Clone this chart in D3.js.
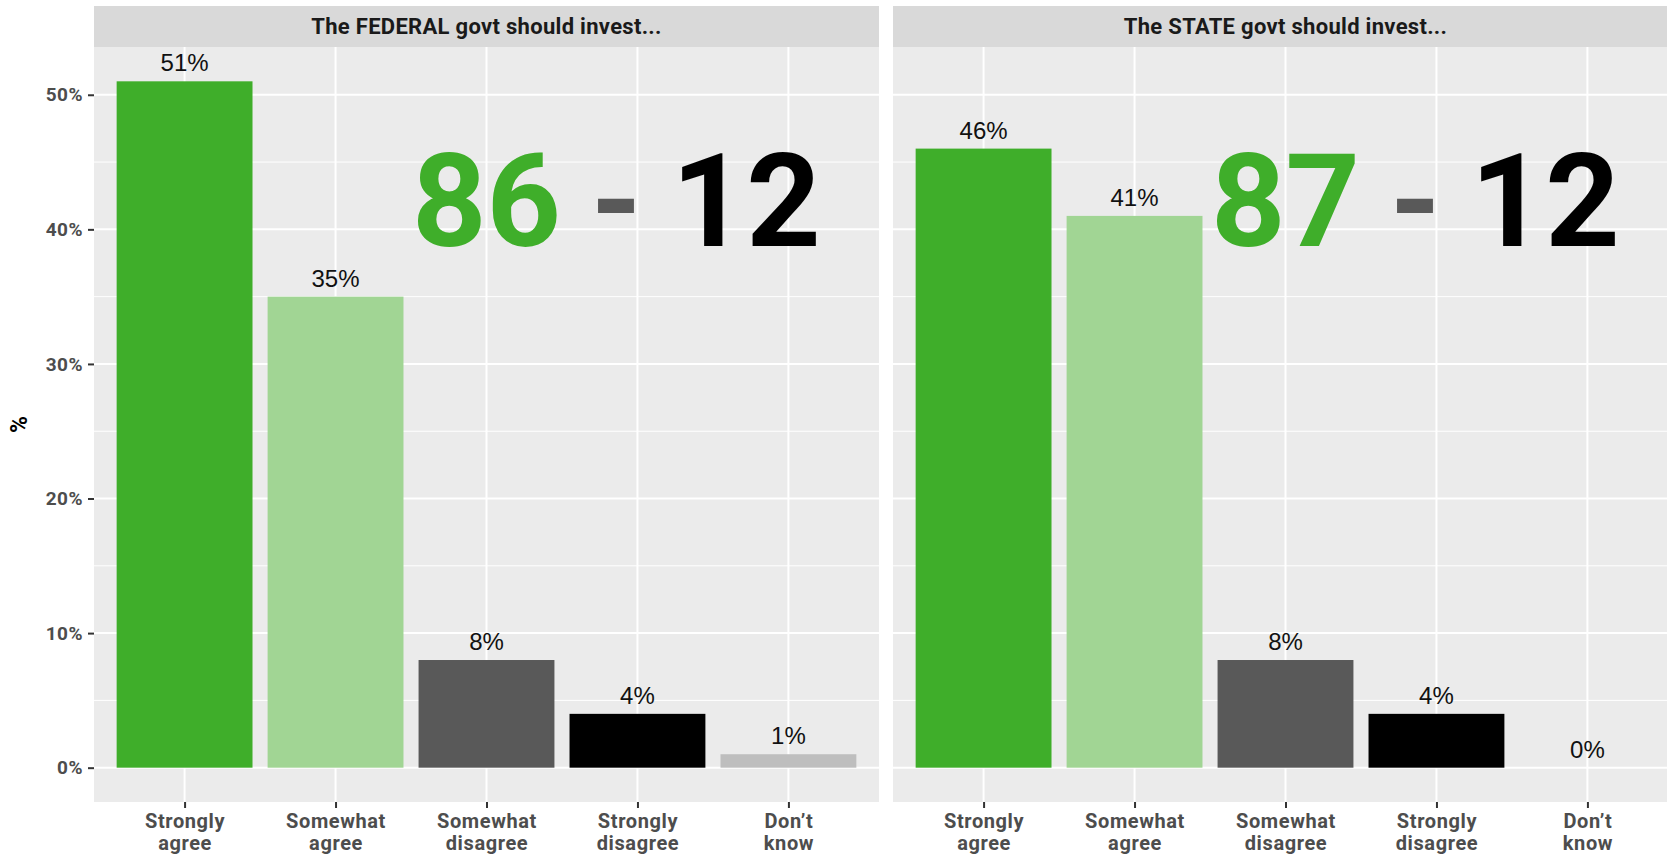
<!DOCTYPE html>
<html>
<head>
<meta charset="utf-8">
<script src="https://cdn.jsdelivr.net/npm/d3@7"></script>
<style>
  html, body { margin: 0; padding: 0; background: #fff; }
  svg { display: block; }
</style>
</head>
<body>
<svg id="chart" width="1667" height="854"></svg>
<script>
// ---------- data ----------
const categories = [["Strongly", "agree"], ["Somewhat", "agree"], ["Somewhat", "disagree"], ["Strongly", "disagree"], ["Don\u2019t", "know"]];
const panelTitles = ["The FEDERAL govt should invest...", "The STATE govt should invest..."];
const federalValues = [51, 35, 8, 4, 1];
const stateValues = [46, 41, 8, 4, 0];
const barColors = ["#3fae2a", "#a1d594", "#595959", "#000000", "#bebebe"];
const agreeTotals = [86, 87];
const disagreeTotals = [12, 12];
const yTicks = [0, 10, 20, 30, 40, 50];
const yMinorTicks = [5, 15, 25, 35, 45];

const seriesValues = [federalValues, stateValues];

// ---------- layout ----------
const svg = d3.select("#chart");
const panelW = 785;
const panelTop = 47, panelBottom = 802;
const stripTop = 6;
const panelLefts = [94, 893];

const allMax = d3.max(seriesValues.flat());
const yPad = allMax * 0.05;
const y = d3.scaleLinear().domain([-yPad, allMax + yPad]).range([panelBottom, panelTop]);

const axisFont = "Roboto, 'DejaVu Sans', sans-serif";

panelLefts.forEach((left, p) => {
  const x = d3.scaleLinear().domain([0.4, categories.length + 0.6]).range([left, left + panelW]);
  const step = x(2) - x(1);
  const g = svg.append("g");

  // panel background
  g.append("rect").attr("x", left).attr("y", panelTop).attr("width", panelW)
    .attr("height", panelBottom - panelTop).attr("fill", "#ebebeb");

  // strip
  g.append("rect").attr("x", left).attr("y", stripTop).attr("width", panelW)
    .attr("height", panelTop - stripTop).attr("fill", "#d9d9d9");
  g.append("text").attr("x", left + panelW / 2).attr("y", (stripTop + panelTop) / 2)
    .attr("dy", "0.36em").attr("text-anchor", "middle")
    .attr("font-family", axisFont).attr("font-weight", 700).attr("font-size", 22)
    .attr("letter-spacing", 0.3)
    .attr("fill", "#1a1a1a").text(panelTitles[p]);

  // minor grid
  g.selectAll(".ymin").data(yMinorTicks).enter().append("line")
    .attr("x1", left).attr("x2", left + panelW)
    .attr("y1", d => y(d)).attr("y2", d => y(d))
    .attr("stroke", "#fff").attr("stroke-width", 1);
  // major grid
  g.selectAll(".ymaj").data(yTicks).enter().append("line")
    .attr("x1", left).attr("x2", left + panelW)
    .attr("y1", d => y(d)).attr("y2", d => y(d))
    .attr("stroke", "#fff").attr("stroke-width", 2);
  g.selectAll(".xmaj").data(categories.map((c, i) => i + 1)).enter().append("line")
    .attr("x1", d => x(d)).attr("x2", d => x(d))
    .attr("y1", panelTop).attr("y2", panelBottom)
    .attr("stroke", "#fff").attr("stroke-width", 2);

  // bars
  const vals = seriesValues[p];
  g.selectAll(".bar").data(vals).enter().append("rect")
    .attr("x", (d, i) => x(i + 1) - step * 0.45)
    .attr("width", step * 0.9)
    .attr("y", d => y(d))
    .attr("height", d => y(0) - y(d))
    .attr("fill", (d, i) => barColors[i]);

  // value labels
  g.selectAll(".lbl").data(vals).enter().append("text")
    .attr("x", (d, i) => x(i + 1))
    .attr("y", d => y(d) - 10)
    .attr("text-anchor", "middle")
    .attr("font-family", "'Liberation Sans', Arial, sans-serif")
    .attr("font-size", 24).attr("fill", "#111")
    .text(d => d + "%");

  // big annotation numbers
  const bigFont = "Roboto, 'DejaVu Sans', sans-serif";
  const bigY = y(38.8);
  g.append("text").attr("x", x(3)).attr("y", bigY).attr("text-anchor", "middle")
    .attr("font-family", bigFont).attr("font-weight", 700).attr("font-size", 130)
    .attr("fill", "#3fae2a").text(agreeTotals[p]);
  g.append("text").attr("x", x(3.86)).attr("y", bigY).attr("text-anchor", "middle")
    .attr("font-family", bigFont).attr("font-weight", 700).attr("font-size", 130)
    .attr("fill", "#595959").text("-");
  g.append("text").attr("x", x(4.72)).attr("y", bigY).attr("text-anchor", "middle")
    .attr("font-family", bigFont).attr("font-weight", 700).attr("font-size", 130)
    .attr("fill", "#000").text(disagreeTotals[p]);

  // x axis
  const xAxis = d3.axisBottom(x).tickValues(categories.map((c, i) => i + 1))
    .tickSize(6).tickPadding(4).tickFormat("");
  const xa = g.append("g").attr("transform", `translate(0,${panelBottom})`).call(xAxis);
  xa.select(".domain").remove();
  xa.selectAll(".tick line").attr("stroke", "#333").attr("stroke-width", 2);
  xa.selectAll(".tick").each(function(d) {
    const t = d3.select(this).append("text")
      .attr("text-anchor", "middle").attr("fill", "#4d4d4d")
      .attr("font-family", axisFont).attr("font-weight", 700).attr("font-size", 20)
      .attr("letter-spacing", 0.6);
    categories[d - 1].forEach((line, k) => {
      t.append("tspan").attr("x", 0).attr("y", 26 + k * 22).text(line);
    });
  });
});

// y axis (left panel only)
const yAxis = d3.axisLeft(y).tickValues(yTicks).tickSize(6).tickPadding(5).tickFormat(d => d + "%");
const ya = svg.append("g").attr("transform", `translate(${panelLefts[0]},0)`).call(yAxis);
ya.select(".domain").remove();
ya.selectAll(".tick line").attr("stroke", "#333").attr("stroke-width", 2);
ya.selectAll(".tick text").attr("fill", "#4d4d4d").attr("font-family", axisFont)
  .attr("font-weight", 700).attr("font-size", 19).attr("letter-spacing", 0.5);

// y axis title
svg.append("text")
  .attr("transform", `translate(27,${(panelTop + panelBottom) / 2}) rotate(-90)`)
  .attr("text-anchor", "middle").attr("font-family", axisFont).attr("font-weight", 700)
  .attr("font-size", 23).attr("fill", "#000").text("%");
</script>
</body>
</html>
